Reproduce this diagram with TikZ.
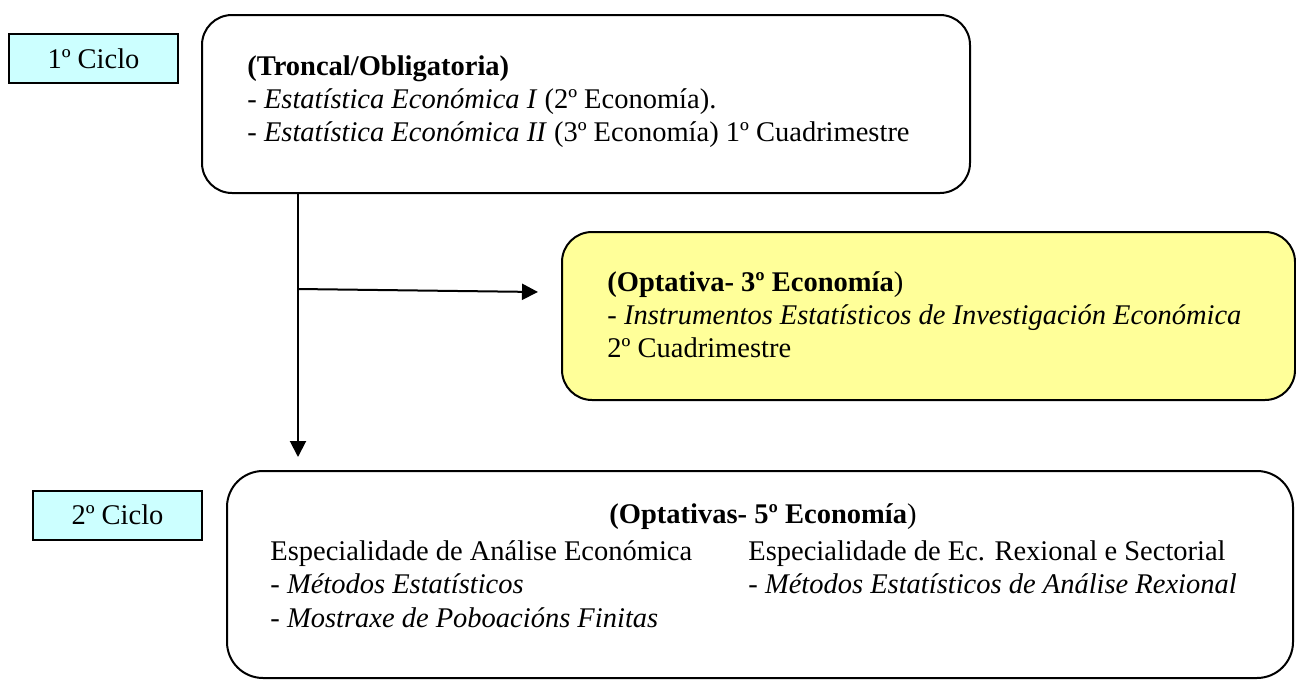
\documentclass[tikz,border=0pt]{standalone}
\usepackage{fontspec}
\setmainfont{Liberation Serif}
\usetikzlibrary{arrows.meta}
\definecolor{cyanbox}{HTML}{CCFFFF}
\definecolor{yellowbox}{HTML}{FFFF99}
\tikzset{
  box/.style={draw=black, line width=1pt, inner sep=0pt},
  roundbox/.style={box, rounded corners=15pt},
  labelbox/.style={box, fill=cyanbox, minimum width=84.5pt, minimum height=24.5pt, font=\fontsize{14.25}{16.5}\selectfont},
  txt/.style={anchor=base west, inner sep=0pt, font=\fontsize{14.25}{16.5}\selectfont},
  conn/.style={line width=1pt, -{Triangle[length=8pt,width=8pt]}}
}
\begin{document}
\begin{tikzpicture}[x=0.5pt,y=-0.5pt]
\useasboundingbox (0,0) rectangle (1296,680);
% boxes
\node[roundbox, minimum width=384pt, minimum height=89pt] (top) at (586,104) {};
\node[roundbox, fill=yellowbox, minimum width=366.5pt, minimum height=84pt] (opt) at (928.5,316) {};
\node[roundbox, rounded corners=18pt, minimum width=533pt, minimum height=103.5pt] (bot) at (760,574.5) {};
\node[labelbox] (c1) at (93.5,58.5) {1º Ciclo};
\node[labelbox] (c2) at (117.5,515) {2º Ciclo};
% texts top
\node[txt] (t1) at (247,75) {\textbf{(Troncal/Obligatoria)}};
\node[txt] (t2) at (247,108) {- \textit{Estatística Económica I} (2º Economía).};
\node[txt] (t3) at (247,141) {- \textit{Estatística Económica II} (3º Economía) 1º Cuadrimestre};
% texts optativa
\node[txt] (o1) at (607,291) {\textbf{(Optativa- 3º Economía})};
\node[txt] (o2) at (607,324) {- \textit{Instrumentos Estatísticos de Investigación Económica}};
\node[txt] (o3) at (607,357) {2º Cuadrimestre};
% texts bottom
\node[txt, anchor=base] (b0) at (763,523) {\textbf{(Optativas- 5º Economía})};
\node[txt] (b1) at (270,560) {Especialidade de Análise Económica};
\node[txt] (b2) at (270,593) {- \textit{Métodos Estatísticos}};
\node[txt] (b3) at (270,627) {- \textit{Mostraxe de Poboacións Finitas}};
\node[txt] (b4) at (748,560) {Especialidade de Ec. Rexional e Sectorial};
\node[txt] (b5) at (748,593) {- \textit{Métodos Estatísticos de Análise Rexional}};
% connectors
\coordinate (vs) at (top.south -| 298,0);
\coordinate (ve) at (298,457);
\coordinate (hs) at (298,289);
\coordinate (he) at (538,292);
\draw[conn] (vs) -- (ve);
\draw[conn] (hs) -- (he);
\end{tikzpicture}
\end{document}
